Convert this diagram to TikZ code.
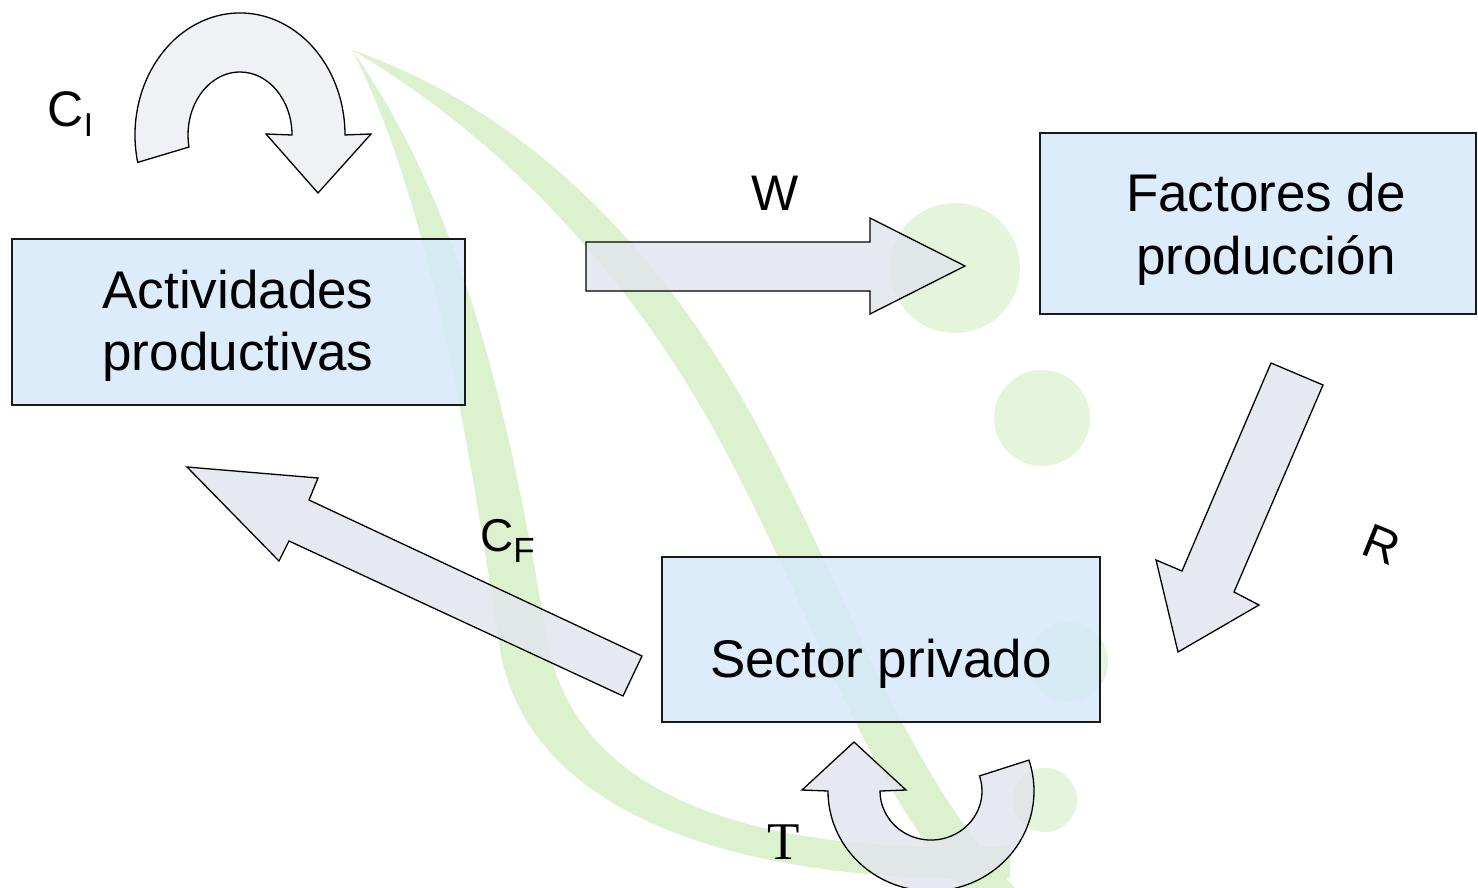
\documentclass[tikz,border=0pt]{standalone}
\usepackage{fontspec}
\setmainfont{Liberation Sans}
\newfontfamily\timesfont{Liberation Serif}
\definecolor{boxfill}{RGB}{213,233,251}
\definecolor{boxline}{RGB}{26,26,26}
\definecolor{arrowfill}{RGB}{225,229,236}
\definecolor{arrowfilllight}{RGB}{236,238,243}
\definecolor{leafgreen}{RGB}{220,242,207}
\definecolor{dotgreen}{RGB}{228,245,219}
\begin{document}
\begin{tikzpicture}[x=1pt,y=1pt,
  boxnode/.style={draw=boxline, line width=1.6pt, fill=boxfill, fill opacity=0.82, draw opacity=1, inner sep=0pt},
  blockarrow/.style={draw=black, line width=1.3pt, fill=arrowfill, fill opacity=0.82, draw opacity=1, line join=miter},
  boxtext/.style={font=\fontsize{53}{62.5}\selectfont, inner sep=0pt, align=center, text=black},
  lbl/.style={font=\fontsize{50}{60}\selectfont, inner sep=0pt, text=black}]
\useasboundingbox (0,0) rectangle (1478,-888);
\fill[white] (0,0) rectangle (1478,-888);

% watermark (leaf and dots)
\fill[leafgreen] (352,-50) .. controls (430,-200) and (470,-450) .. (500,-650)
  .. controls (530,-820) and (750,-885) .. (1010,-878) -- (1010,-846)
  .. controls (760,-856) and (580,-800) .. (548,-645)
  .. controls (515,-450) and (472,-220) .. (352,-50) -- cycle;
\fill[leafgreen] (352,-50) .. controls (525,-110) and (665,-250) .. (765,-440)
  .. controls (855,-610) and (905,-770) .. (1015,-888) -- (962,-888)
  .. controls (865,-780) and (815,-620) .. (725,-450)
  .. controls (635,-280) and (505,-140) .. (352,-50) -- cycle;
\fill[dotgreen] (955,-268) circle[radius=65pt];
\fill[dotgreen] (1042,-418) circle[radius=48pt];
\fill[dotgreen] (1068,-662) circle[radius=40pt];
\fill[dotgreen] (1045,-800) circle[radius=32pt];

% boxes
\node[boxnode, minimum width=453pt, minimum height=166pt] (act) at (238.5,-322) {};
\node[boxnode, minimum width=436pt, minimum height=181pt] (fac) at (1258,-223.5) {};
\node[boxnode, minimum width=438pt, minimum height=165pt] (sec) at (881,-639.5) {};

\node[boxtext] (acttxt) at (238,-326) {Actividades\\productivas};
\node[boxtext] (factxt) at (1266,-229.3) {Factores de\\producción};
\node[boxtext, anchor=base] (sectxt) at (881,-677) {Sector privado};

% block arrows
\draw[blockarrow] (586,-242) -- (870,-242) -- (870,-218) -- (965,-266)
  -- (870,-314) -- (870,-291) -- (586,-291) -- cycle;
\draw[blockarrow] (1271,-363) -- (1323,-385) -- (1234,-592) -- (1259,-605)
  -- (1178,-652) -- (1156,-560) -- (1182,-571) -- cycle;
\draw[blockarrow] (187,-467) -- (318,-478) -- (309,-500) -- (642,-656)
  -- (623,-696) -- (289,-541) -- (279,-561) -- cycle;
% C_I U-turn arrow
\draw[blockarrow, fill=arrowfilllight] (137.7,-162.4)
  arc[start angle=193, end angle=0, x radius=105pt, y radius=122pt]
  -- (371,-134) -- (318,-193) -- (266,-134) -- (292,-135)
  arc[start angle=0, end angle=191, x radius=52pt, y radius=63pt] -- cycle;
% T U-turn arrow
\draw[blockarrow] (828,-791)
  arc[start angle=180, end angle=378, x radius=103pt, y radius=100pt]
  -- (979.5,-775.9)
  arc[start angle=378, end angle=180, x radius=51pt, y radius=49pt]
  -- (906,-790) -- (854,-742) -- (802,-790) -- cycle;

% labels
\node[lbl, anchor=base west] (ci) at (47.5,-127) {C\raisebox{-10pt}{\fontsize{33}{40}\selectfont I}};
\node[lbl, anchor=base] (w) at (775,-210) {W};
\node[lbl, font=\fontsize{46}{55}\selectfont, anchor=base west] (cf) at (480,-551) {C\raisebox{-11pt}{\fontsize{35}{42}\selectfont F}};
\node[lbl, font=\fontsize{48}{58}\selectfont, rotate=-22] (r) at (1382,-545) {R};
\node[lbl, font=\timesfont\fontsize{53}{62}\selectfont, anchor=base] (t) at (783.5,-859) {T};
\end{tikzpicture}
\end{document}
